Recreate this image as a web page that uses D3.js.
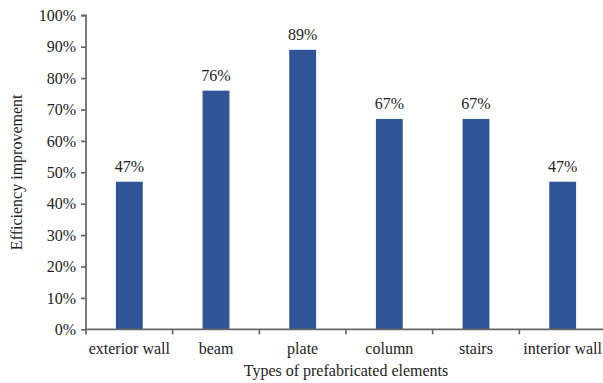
<!DOCTYPE html>
<html>
<head>
<meta charset="utf-8">
<script src="https://cdn.jsdelivr.net/npm/d3@7"></script>
<style>
  html, body { margin: 0; padding: 0; background: #fff; }
  svg { display: block; }
  svg text { font-family: 'Liberation Serif', 'Times New Roman', Tinos, 'DejaVu Serif', serif !important; }
</style>
</head>
<body>
<svg id="chart" width="603" height="383"></svg>
<script>
// Element types and their efficiency improvement (fraction)
const categories = ["exterior wall", "beam", "plate", "column", "stairs", "interior wall"];
const efficiency = [0.47, 0.76, 0.89, 0.67, 0.67, 0.47];
const yTicks = [0, 0.1, 0.2, 0.3, 0.4, 0.5, 0.6, 0.7, 0.8, 0.9, 1.0];

const svg = d3.select("#chart");
const margin = { left: 86, right: -3, top: 15.3, bottom: 53.7 };
const W = 603, H = 383;

const x = d3.scaleBand()
  .domain(categories)
  .range([margin.left, W - margin.right])
  .paddingInner(0.69)
  .paddingOuter(0.345);

const y = d3.scaleLinear()
  .domain([0, 1])
  .range([H - margin.bottom, margin.top]);

const axisColor = "#666666";
const textColor = "#222";

// Bars
svg.append("g")
  .selectAll("rect")
  .data(categories)
  .join("rect")
  .attr("x", d => x(d))
  .attr("width", x.bandwidth())
  .attr("y", (d, i) => y(efficiency[i]))
  .attr("height", (d, i) => y(0) - y(efficiency[i]))
  .attr("fill", "#2f5597");

// Value labels
svg.append("g")
  .selectAll("text")
  .data(categories)
  .join("text")
  .attr("x", d => x(d) + x.bandwidth() / 2)
  .attr("y", (d, i) => y(efficiency[i]) - 10)
  .attr("text-anchor", "middle")
  .attr("font-size", 16)
  .attr("fill", textColor)
  .text((d, i) => Math.round(efficiency[i] * 100) + "%");

// Y axis
const yAxis = svg.append("g")
  .attr("transform", `translate(${margin.left},0)`)
  .call(d3.axisLeft(y).tickValues(yTicks).tickFormat(d3.format(".0%")).tickSize(5).tickPadding(5));
yAxis.attr("font-family", null);
yAxis.selectAll("path, line").attr("stroke", axisColor).attr("stroke-width", 1.7);
yAxis.select("path").attr("d", `M-5,${y(1)}H0V${y(0)}`);
yAxis.selectAll("text").attr("font-size", 16).attr("fill", textColor);

// X axis with ticks on band boundaries
const step = x.step();
const x0 = margin.left;
const xAxisG = svg.append("g");
xAxisG.append("line")
  .attr("x1", x0).attr("x2", x0 + step * categories.length)
  .attr("y1", y(0)).attr("y2", y(0))
  .attr("stroke", axisColor).attr("stroke-width", 1.7);
xAxisG.selectAll("line.tick")
  .data(d3.range(categories.length + 1))
  .join("line")
  .attr("class", "tick")
  .attr("x1", i => x0 + i * step).attr("x2", i => x0 + i * step)
  .attr("y1", y(0)).attr("y2", y(0) + 5)
  .attr("stroke", axisColor).attr("stroke-width", 1.7);
xAxisG.selectAll("text")
  .data(categories)
  .join("text")
  .attr("x", d => x(d) + x.bandwidth() / 2)
  .attr("y", y(0) + 25)
  .attr("text-anchor", "middle")
  .attr("font-size", 16)
  .attr("fill", textColor)
  .text(d => d);

// Axis titles
svg.append("text")
  .attr("x", 346)
  .attr("y", 376)
  .attr("text-anchor", "middle")
  .attr("font-size", 16)
  .attr("fill", textColor)
  .text("Types of prefabricated elements");

svg.append("text")
  .attr("transform", `translate(22,${(y(0) + y(1)) / 2}) rotate(-90)`)
  .attr("text-anchor", "middle")
  .attr("font-size", 16)
  .attr("fill", textColor)
  .text("Efficiency improvement");
</script>
</body>
</html>
